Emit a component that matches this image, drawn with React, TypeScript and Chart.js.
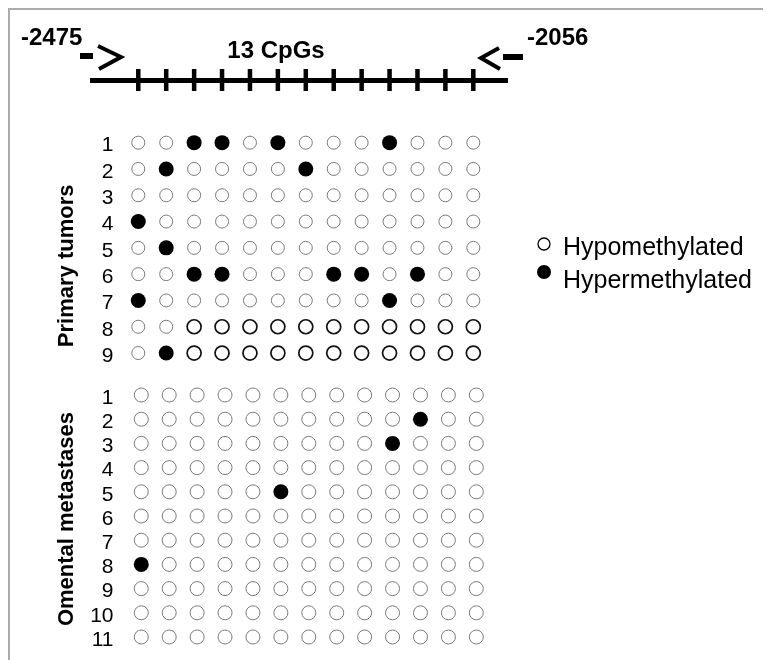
import { useEffect, useRef } from 'react';
import { Chart, registerables } from 'chart.js';

Chart.register(...registerables);

// ---------- data ----------
const cpgSites = [1, 2, 3, 4, 5, 6, 7, 8, 9, 10, 11, 12, 13];
const primaryTumors = [1, 2, 3, 4, 5, 6, 7, 8, 9];
const primaryHypermethylated = [
  [3, 4, 6, 10],
  [2, 7],
  [],
  [1],
  [2],
  [3, 4, 8, 9, 11],
  [1, 10],
  [],
  [2],
];
const primaryDarkOutlineRows = [8, 9];
const primaryDarkOutlineFromSite = 3;
const omentalMetastases = [1, 2, 3, 4, 5, 6, 7, 8, 9, 10, 11];
const metastasisHypermethylated = [[], [11], [10], [], [6], [], [], [1], [], [], []];
const regionStart = '-2475';
const regionEnd = '-2056';
const regionLabel = '13 CpGs';
const groupTitles = ['Primary tumors', 'Omental metastases'];
const legendLabels = ['Hypomethylated', 'Hypermethylated'];

const FONT = '"Liberation Sans", Arial, sans-serif';

type Pt = { x: number; y: number };

function splitPoints(rows: number[], hyper: number[][], darkRows: number[], darkFrom: number) {
  const open: Pt[] = [];
  const dark: Pt[] = [];
  const filled: Pt[] = [];
  rows.forEach((row, i) => {
    cpgSites.forEach((site) => {
      const p = { x: site, y: row };
      if (hyper[i].includes(site)) filled.push(p);
      else if (darkRows.includes(row) && site >= darkFrom) dark.push(p);
      else open.push(p);
    });
  });
  return { open, dark, filled };
}

const decorPlugin = {
  id: 'decor',
  afterDraw(chart: any) {
    const ctx = chart.ctx as CanvasRenderingContext2D;
    const xs = chart.scales.x;
    const yPri = chart.scales.yPri;
    const yMeta = chart.scales.yMeta;
    ctx.save();
    ctx.fillStyle = '#000';
    ctx.strokeStyle = '#000';

    // region line
    ctx.lineWidth = 5;
    ctx.beginPath();
    ctx.moveTo(80, 70.5);
    ctx.lineTo(498, 70.5);
    ctx.stroke();
    cpgSites.forEach((s) => {
      const px = xs.getPixelForValue(s);
      ctx.fillRect(px - 2.25, 59, 4.5, 22);
    });

    // primer arrows
    ctx.fillRect(70, 43, 13, 6);
    ctx.lineWidth = 4;
    ctx.lineJoin = 'miter';
    ctx.beginPath();
    ctx.moveTo(88, 36);
    ctx.lineTo(111, 47);
    ctx.lineTo(89, 59);
    ctx.stroke();
    ctx.fillRect(493, 44, 20, 6);
    ctx.beginPath();
    ctx.moveTo(489, 38);
    ctx.lineTo(471, 48);
    ctx.lineTo(490, 59);
    ctx.stroke();

    // region texts
    ctx.font = `bold 24px ${FONT}`;
    ctx.textBaseline = 'alphabetic';
    ctx.textAlign = 'left';
    ctx.fillText(regionStart, 11, 35);
    ctx.fillText(regionEnd, 517, 35);
    ctx.textAlign = 'center';
    ctx.fillText(regionLabel, 266, 48);

    // group titles
    ctx.font = `bold 22px ${FONT}`;
    ctx.textBaseline = 'middle';
    const titleY = [
      (yPri.top + yPri.bottom) / 2 + 18,
      (yMeta.top + yMeta.bottom) / 2 + 11,
    ];
    groupTitles.forEach((t, i) => {
      ctx.save();
      ctx.translate(57, titleY[i]);
      ctx.rotate(-Math.PI / 2);
      ctx.fillText(t, 0, 0);
      ctx.restore();
    });

    // legend
    ctx.textAlign = 'left';
    ctx.textBaseline = 'alphabetic';
    ctx.font = `25px ${FONT}`;
    ctx.lineWidth = 1.3;
    ctx.beginPath();
    ctx.arc(534, 234, 6, 0, Math.PI * 2);
    ctx.fillStyle = '#fff';
    ctx.fill();
    ctx.stroke();
    ctx.fillStyle = '#000';
    ctx.fillText(legendLabels[0], 553, 245);
    ctx.beginPath();
    ctx.arc(534, 262, 7, 0, Math.PI * 2);
    ctx.fill();
    ctx.fillText(legendLabels[1], 553, 278);
    ctx.restore();
  },
};

export default function App() {
  const ref = useRef<HTMLCanvasElement | null>(null);

  useEffect(() => {
    if (!ref.current) return;
    const pri = splitPoints(primaryTumors, primaryHypermethylated, primaryDarkOutlineRows, primaryDarkOutlineFromSite);
    const met = splitPoints(omentalMetastases, metastasisHypermethylated, [], 99);

    const tickFont = { family: FONT, size: 21 };
    const yCommon = {
      type: 'linear' as const,
      position: 'left' as const,
      stack: 'rows',
      reverse: true,
      grid: { display: false, drawTicks: false },
      border: { display: false },
      afterFit: (s: any) => {
        s.width = 50;
        s.paddingTop = 0;
        s.paddingBottom = 0;
        s.paddingLeft = 0;
        s.paddingRight = 0;
      },
    };

    const chart = new Chart(ref.current, {
      type: 'scatter',
      data: {
        datasets: [
          {
            label: 'primary-open',
            data: pri.open,
            xAxisID: 'x',
            yAxisID: 'yPri',
            pointRadius: 6.5,
            pointBorderWidth: 1,
            pointBorderColor: '#7a7a7a',
            pointBackgroundColor: '#fff',
          },
          {
            label: 'primary-open-dark',
            data: pri.dark,
            xAxisID: 'x',
            yAxisID: 'yPri',
            pointRadius: 7,
            pointBorderWidth: 1.7,
            pointBorderColor: '#111',
            pointBackgroundColor: '#fff',
          },
          {
            label: 'primary-filled',
            data: pri.filled,
            xAxisID: 'x',
            yAxisID: 'yPri',
            pointRadius: 7.5,
            pointBorderWidth: 0,
            pointBackgroundColor: '#000',
          },
          {
            label: 'meta-open',
            data: met.open,
            xAxisID: 'x2',
            yAxisID: 'yMeta',
            pointRadius: 7,
            pointBorderWidth: 1,
            pointBorderColor: '#7a7a7a',
            pointBackgroundColor: '#fff',
          },
          {
            label: 'meta-filled',
            data: met.filled,
            xAxisID: 'x2',
            yAxisID: 'yMeta',
            pointRadius: 7.5,
            pointBorderWidth: 0,
            pointBackgroundColor: '#000',
          },
        ],
      },
      options: {
        animation: false,
        responsive: false,
        events: [],
        layout: { padding: { top: 119.5, bottom: 10, left: 60, right: 271 } },
        plugins: { legend: { display: false }, tooltip: { enabled: false } },
        scales: {
          x: { type: 'linear', display: false, min: 0.345, max: 13.956 },
          x2: { type: 'linear', display: false, min: 0.238, max: 13.849 },
          yMeta: {
            ...yCommon,
            stackWeight: 283.8,
            min: -0.19,
            max: 11.537,
            afterBuildTicks: (s: any) => {
              s.ticks = omentalMetastases.map((v) => ({ value: v }));
            },
            ticks: { padding: 6.5, labelOffset: 3, font: tickFont, color: '#000', autoSkip: false },
          },
          yPri: {
            ...yCommon,
            stackWeight: 236.7,
            min: 0.5,
            max: 9.5,
            afterBuildTicks: (s: any) => {
              s.ticks = primaryTumors.map((v) => ({ value: v }));
            },
            ticks: { padding: 6.5, labelOffset: 3, font: tickFont, color: '#000', autoSkip: false },
          },
        } as any,
      },
      plugins: [decorPlugin],
    });
    return () => chart.destroy();
  }, []);

  return (
    <div style={{ borderTop: '2px solid #ababab', borderLeft: '2px solid #ababab', width: 761, height: 650 }}>
      <canvas ref={ref} width={761} height={650} style={{ display: 'block', width: 761, height: 650 }} />
    </div>
  );
}
